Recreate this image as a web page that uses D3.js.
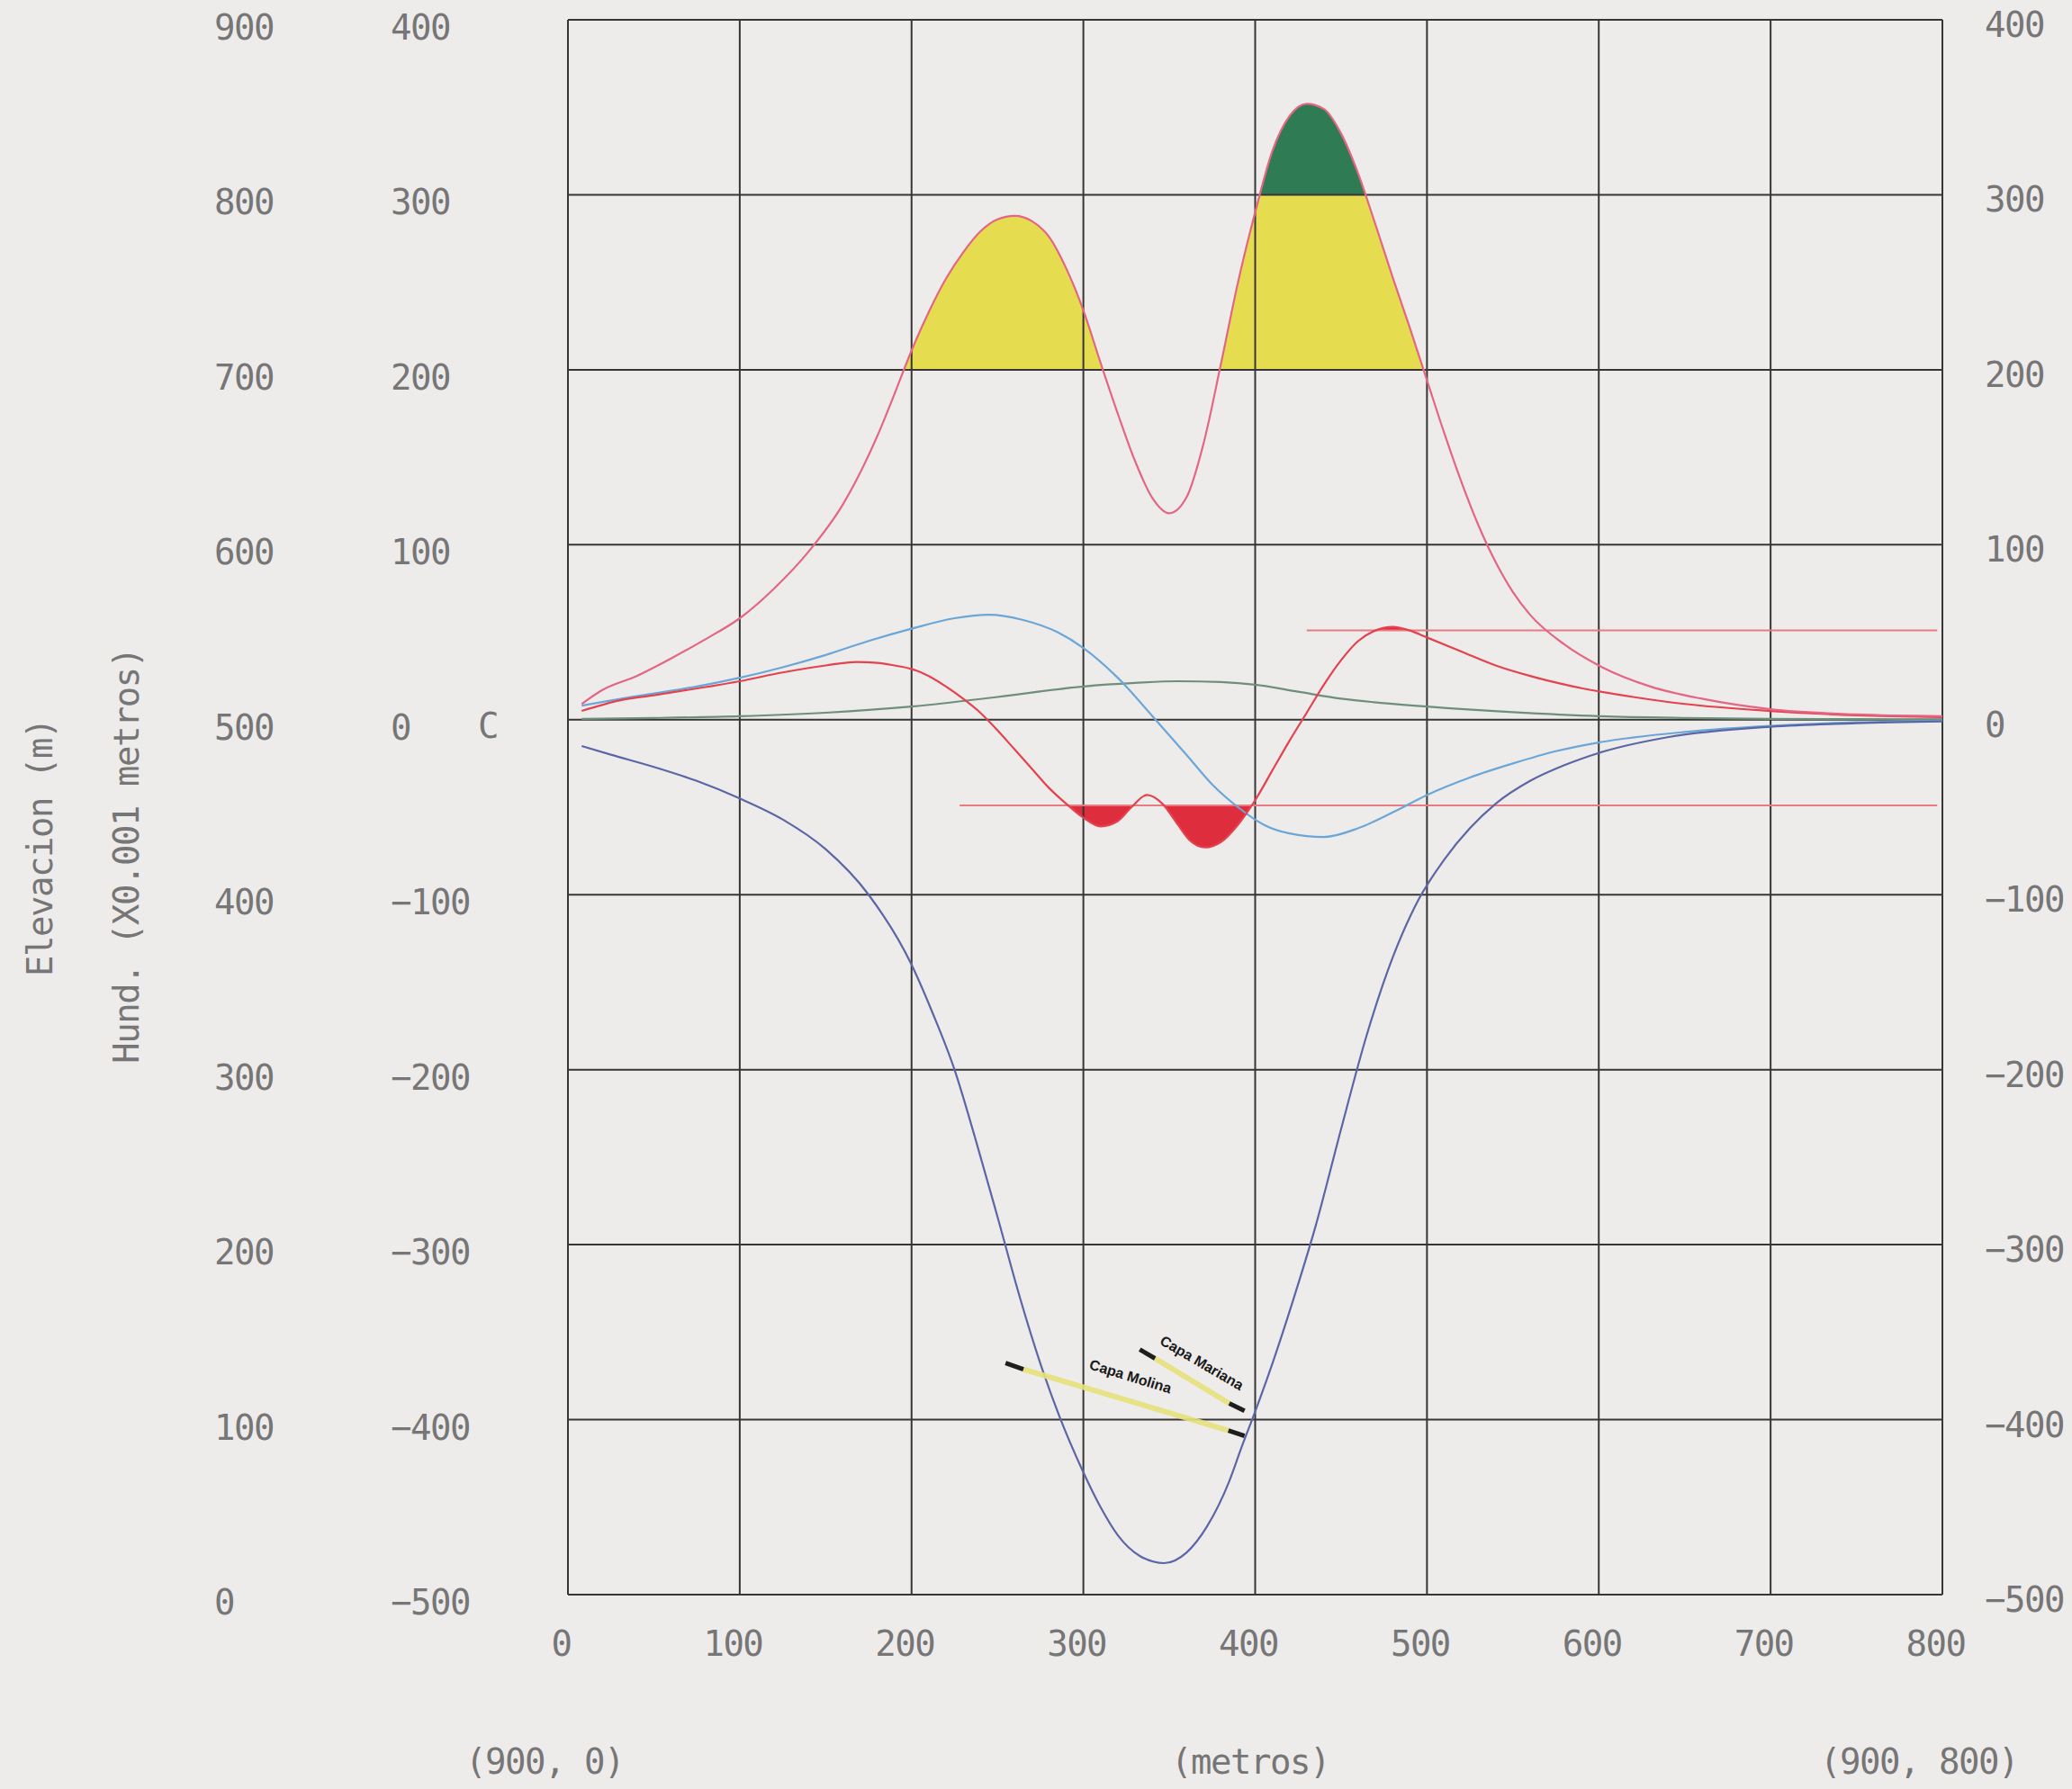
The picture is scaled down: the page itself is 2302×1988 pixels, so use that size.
<!DOCTYPE html>
<html>
<head>
<meta charset="utf-8">
<script src="https://cdn.jsdelivr.net/npm/d3@7"></script>
<style>
  html, body { margin: 0; padding: 0; background: #eeeceb; }
  svg { display: block; }
  .lbl { font-family: "DejaVu Sans Mono", "Liberation Mono", monospace; font-size: 39px; fill: #767676; letter-spacing: -1.5px; }
  .capa { font-family: "Liberation Sans", Arial, sans-serif; font-size: 16px; font-weight: bold; fill: #1a1a1a; }
</style>
</head>
<body>
<svg id="chart" width="2302" height="1988"></svg>
<script>
// Tick values
const ticksDist = [0, 100, 200, 300, 400, 500, 600, 700, 800];
const ticksHund = [-500, -400, -300, -200, -100, 0, 100, 200, 300, 400];
const ticksElev = [0, 100, 200, 300, 400, 500, 600, 700, 800, 900];

// Hundimiento (subsidence), x0.001 m
const hundX = [8, 25, 50, 75, 100, 125, 150, 175, 200, 212, 225, 237, 250, 263, 275, 286, 299, 310, 320, 333, 347, 360, 372, 385, 392, 399, 410, 422, 435, 450, 465, 480, 495, 510, 525, 540, 560, 580, 600, 640, 700, 750, 800];
const hundY = [-15, -20, -27, -35, -45, -57, -74, -100, -140, -167, -200, -239, -284, -330, -368, -398, -428, -450, -466, -478, -482, -476, -461, -435, -416, -398, -368, -332, -290, -234, -180, -136, -103, -80, -62, -48, -35, -26, -19, -10, -4, -2, -1];

// Inclinacion
const inclX = [8, 25, 50, 75, 100, 125, 150, 175, 200, 225, 245, 265, 285, 300, 320, 342, 360, 375, 390, 405, 420, 440, 460, 480, 500, 525, 550, 575, 600, 650, 700, 750, 800];
const inclY = [8, 11, 15, 19, 24, 30, 37, 45, 52, 58, 60, 57, 50, 41, 24, 0, -20, -37, -50, -60, -65, -67, -62, -53, -43, -33, -25, -18, -13, -7, -3.5, -1.5, -0.5];

// Desplazamiento horizontal
const despX = [8, 50, 100, 150, 200, 250, 300, 330, 355, 380, 400, 425, 450, 475, 500, 550, 600, 650, 700, 750, 800];
const despY = [0.5, 1, 2, 4, 7.5, 13, 19, 21, 22, 21.5, 20, 16, 12, 9.5, 7.5, 4.3, 2, 1, 0.5, 0.3, 0.2];

// Curvatura
const curvX = [8, 30, 50, 76, 100, 125, 150, 168, 180, 190, 200, 210, 220, 230, 240, 250, 260, 270, 280, 290, 300, 310, 320, 328, 337, 346, 355, 362, 371, 380, 390, 400, 410, 420, 430, 440, 450, 460, 470, 480, 490, 500, 520, 540, 560, 590, 620, 650, 700, 750, 800];
const curvY = [5, 11, 14, 18, 22, 27, 31, 33, 32.5, 31, 29, 25, 19, 12, 4, -6, -17, -28, -39, -48, -56, -61, -58, -50, -43, -48, -60, -69, -73, -70, -60, -46, -29, -12, 4, 20, 34, 45, 51, 53, 51, 47, 39, 31, 25, 18, 13, 9, 5, 2.5, 1.5];

// Deformacion
const defX = [8, 20, 40, 60, 80, 100, 120, 140, 160, 180, 190, 200, 210, 220, 230, 240, 250, 260, 270, 280, 290, 300, 310, 320, 330, 340, 350, 360, 370, 380, 390, 400, 410, 420, 430, 440, 450, 460, 470, 480, 490, 500, 510, 520, 530, 540, 550, 560, 580, 600, 630, 660, 700, 750, 800];
const defY = [9, 17, 25, 35, 46, 58, 75, 96, 123, 162, 186, 211, 233, 252, 267, 279, 286, 288, 285, 276, 258, 234, 204, 175, 148, 127, 118, 127, 158, 203, 250, 290, 325, 345, 352, 349, 335, 312, 283, 253, 224, 194, 164, 136, 111, 90, 73, 60, 43, 31, 19, 12, 6, 3, 2];

// Limits
const defLimits = [200, 300];
const curvLimitLow = { x0: 228, x1: 797, v: -49 };
const curvLimitHigh = { x0: 430, x1: 797, v: 51 };

// Seams: black end, yellow body, black end (distance, level)
const capaMolina = { name: "Capa Molina", ends: [[254.7, -367.6], [265.1, -371.2], [384.4, -406.2], [393.8, -409.3]], label: [326.6, -378.0] };
const capaMariana = { name: "Capa Mariana", ends: [[332.8, -359.9], [341.7, -365.0], [384.9, -390.7], [393.8, -394.9]], label: [367.5, -370.0] };

const svg = d3.select("#chart");
const x = d3.scaleLinear().domain([0, 800]).range([631, 2158]);
const y = d3.scaleLinear().domain([-500, 400]).range([1772, 22]);
const yElev = d3.scaleLinear().domain([0, 900]).range([1772, 22]);

const toPts = (xs, ys) => xs.map((d, i) => [d, ys[i]]);
const curve = d3.curveMonotoneX;
const line = d3.line().x(d => x(d[0])).y(d => y(d[1])).curve(curve);

const defs = svg.append("defs");
function clipRect(id, v0, v1, d0 = 0, d1 = 800) {
  defs.append("clipPath").attr("id", id).append("rect")
    .attr("x", x(d0)).attr("width", x(d1) - x(d0))
    .attr("y", y(v1)).attr("height", y(v0) - y(v1));
}
clipRect("band-yellow", defLimits[0], defLimits[1]);
clipRect("band-green", defLimits[1], 400);
clipRect("band-red-low", -500, curvLimitLow.v, curvLimitLow.x0, curvLimitLow.x1);
clipRect("band-red-high", curvLimitHigh.v, 400, curvLimitHigh.x0, curvLimitHigh.x1);

const defPts = toPts(defX, defY);
const curvPts = toPts(curvX, curvY);
const areaBelow = d3.area().x(d => x(d[0])).y0(y(-500)).y1(d => y(d[1])).curve(curve);
const areaAbove = d3.area().x(d => x(d[0])).y0(y(400)).y1(d => y(d[1])).curve(curve);

// Filled exceedance zones
svg.append("path").attr("d", areaBelow(defPts)).attr("fill", "#e6dc50").attr("clip-path", "url(#band-yellow)");
svg.append("path").attr("d", areaBelow(defPts)).attr("fill", "#2f7b53").attr("clip-path", "url(#band-green)");
svg.append("path").attr("d", areaAbove(curvPts)).attr("fill", "#de2e3e").attr("clip-path", "url(#band-red-low)");
svg.append("path").attr("d", areaBelow(curvPts)).attr("fill", "#de2e3e").attr("clip-path", "url(#band-red-high)");

// Grid
const grid = svg.append("g").attr("stroke", "#363636").attr("stroke-width", 2);
grid.selectAll("line.v").data(ticksDist).join("line").attr("class", "v")
  .attr("x1", d => x(d)).attr("x2", d => x(d)).attr("y1", y(400)).attr("y2", y(-500));
grid.selectAll("line.h").data(ticksHund).join("line").attr("class", "h")
  .attr("x1", x(0)).attr("x2", x(800)).attr("y1", d => y(d)).attr("y2", d => y(d));

// Limit lines
const lim = svg.append("g").attr("stroke", "#e87a82").attr("stroke-width", 2);
[curvLimitLow, curvLimitHigh].forEach(l => {
  lim.append("line").attr("x1", x(l.x0)).attr("x2", x(l.x1)).attr("y1", y(l.v)).attr("y2", y(l.v));
});

// Curves
const series = [
  { xs: despX, ys: despY, color: "#6e8f7a" },
  { xs: inclX, ys: inclY, color: "#6aa7d8" },
  { xs: hundX, ys: hundY, color: "#5c66a6" },
  { xs: curvX, ys: curvY, color: "#e4424e" },
  { xs: defX, ys: defY, color: "#e36683" }
];
svg.append("g").selectAll("path").data(series).join("path")
  .attr("d", s => line(toPts(s.xs, s.ys)))
  .attr("fill", "none").attr("stroke", s => s.color).attr("stroke-width", 2.2);

// Seams
[capaMolina, capaMariana].forEach(c => {
  const p = c.ends.map(e => [x(e[0]), y(e[1])]);
  const g = svg.append("g");
  g.append("line").attr("x1", p[1][0]).attr("y1", p[1][1]).attr("x2", p[2][0]).attr("y2", p[2][1])
    .attr("stroke", "#e6e27a").attr("stroke-width", 6).attr("opacity", 0.9);
  [[0, 1], [2, 3]].forEach(([a, b]) => {
    g.append("line").attr("x1", p[a][0]).attr("y1", p[a][1]).attr("x2", p[b][0]).attr("y2", p[b][1])
      .attr("stroke", "#1e1e1e").attr("stroke-width", 5);
  });
  const ang = Math.atan2(p[3][1] - p[0][1], p[3][0] - p[0][0]) * 180 / Math.PI;
  g.append("text").attr("class", "capa").attr("text-anchor", "middle")
    .attr("transform", `translate(${x(c.label[0])},${y(c.label[1])}) rotate(${ang})`)
    .text(c.name);
});

// Axes (labels only)
function labelAxis(axis, tx, ty, dx) {
  const g = svg.append("g").attr("transform", `translate(${tx},${ty})`).call(axis);
  g.attr("font-size", null).attr("font-family", null);
  g.select(".domain").remove();
  g.selectAll(".tick line").remove();
  g.selectAll("text").attr("class", "lbl").attr("fill", null);
  if (dx) g.selectAll("text").attr("dx", dx);
  return g;
}
labelAxis(d3.axisRight(y).tickValues(ticksHund).tickSize(0).tickPadding(0), 434, 9);
labelAxis(d3.axisRight(yElev).tickValues(ticksElev).tickSize(0).tickPadding(0), 238, 9);
labelAxis(d3.axisRight(y).tickValues(ticksHund).tickSize(0).tickPadding(0), 2205, 6);
labelAxis(d3.axisBottom(x).tickValues(ticksDist).tickSize(0).tickPadding(0), 0, 1812, -8);

// Titles and captions
svg.append("text").attr("class", "lbl").attr("transform", "translate(58,942) rotate(-90)")
  .attr("text-anchor", "middle").text("Elevacion (m)");
svg.append("text").attr("class", "lbl").attr("transform", "translate(154,951) rotate(-90)")
  .attr("text-anchor", "middle").text("Hund. (X0.001 metros)");
svg.append("text").attr("class", "lbl").attr("x", 531).attr("y", y(0) + 20).text("C");
svg.append("text").attr("class", "lbl").attr("x", 605).attr("y", 1971).attr("text-anchor", "middle").text("(900, 0)");
svg.append("text").attr("class", "lbl").attr("x", 1389).attr("y", 1971).attr("text-anchor", "middle").text("(metros)");
svg.append("text").attr("class", "lbl").attr("x", 2132).attr("y", 1971).attr("text-anchor", "middle").text("(900, 800)");
</script>
</body>
</html>
